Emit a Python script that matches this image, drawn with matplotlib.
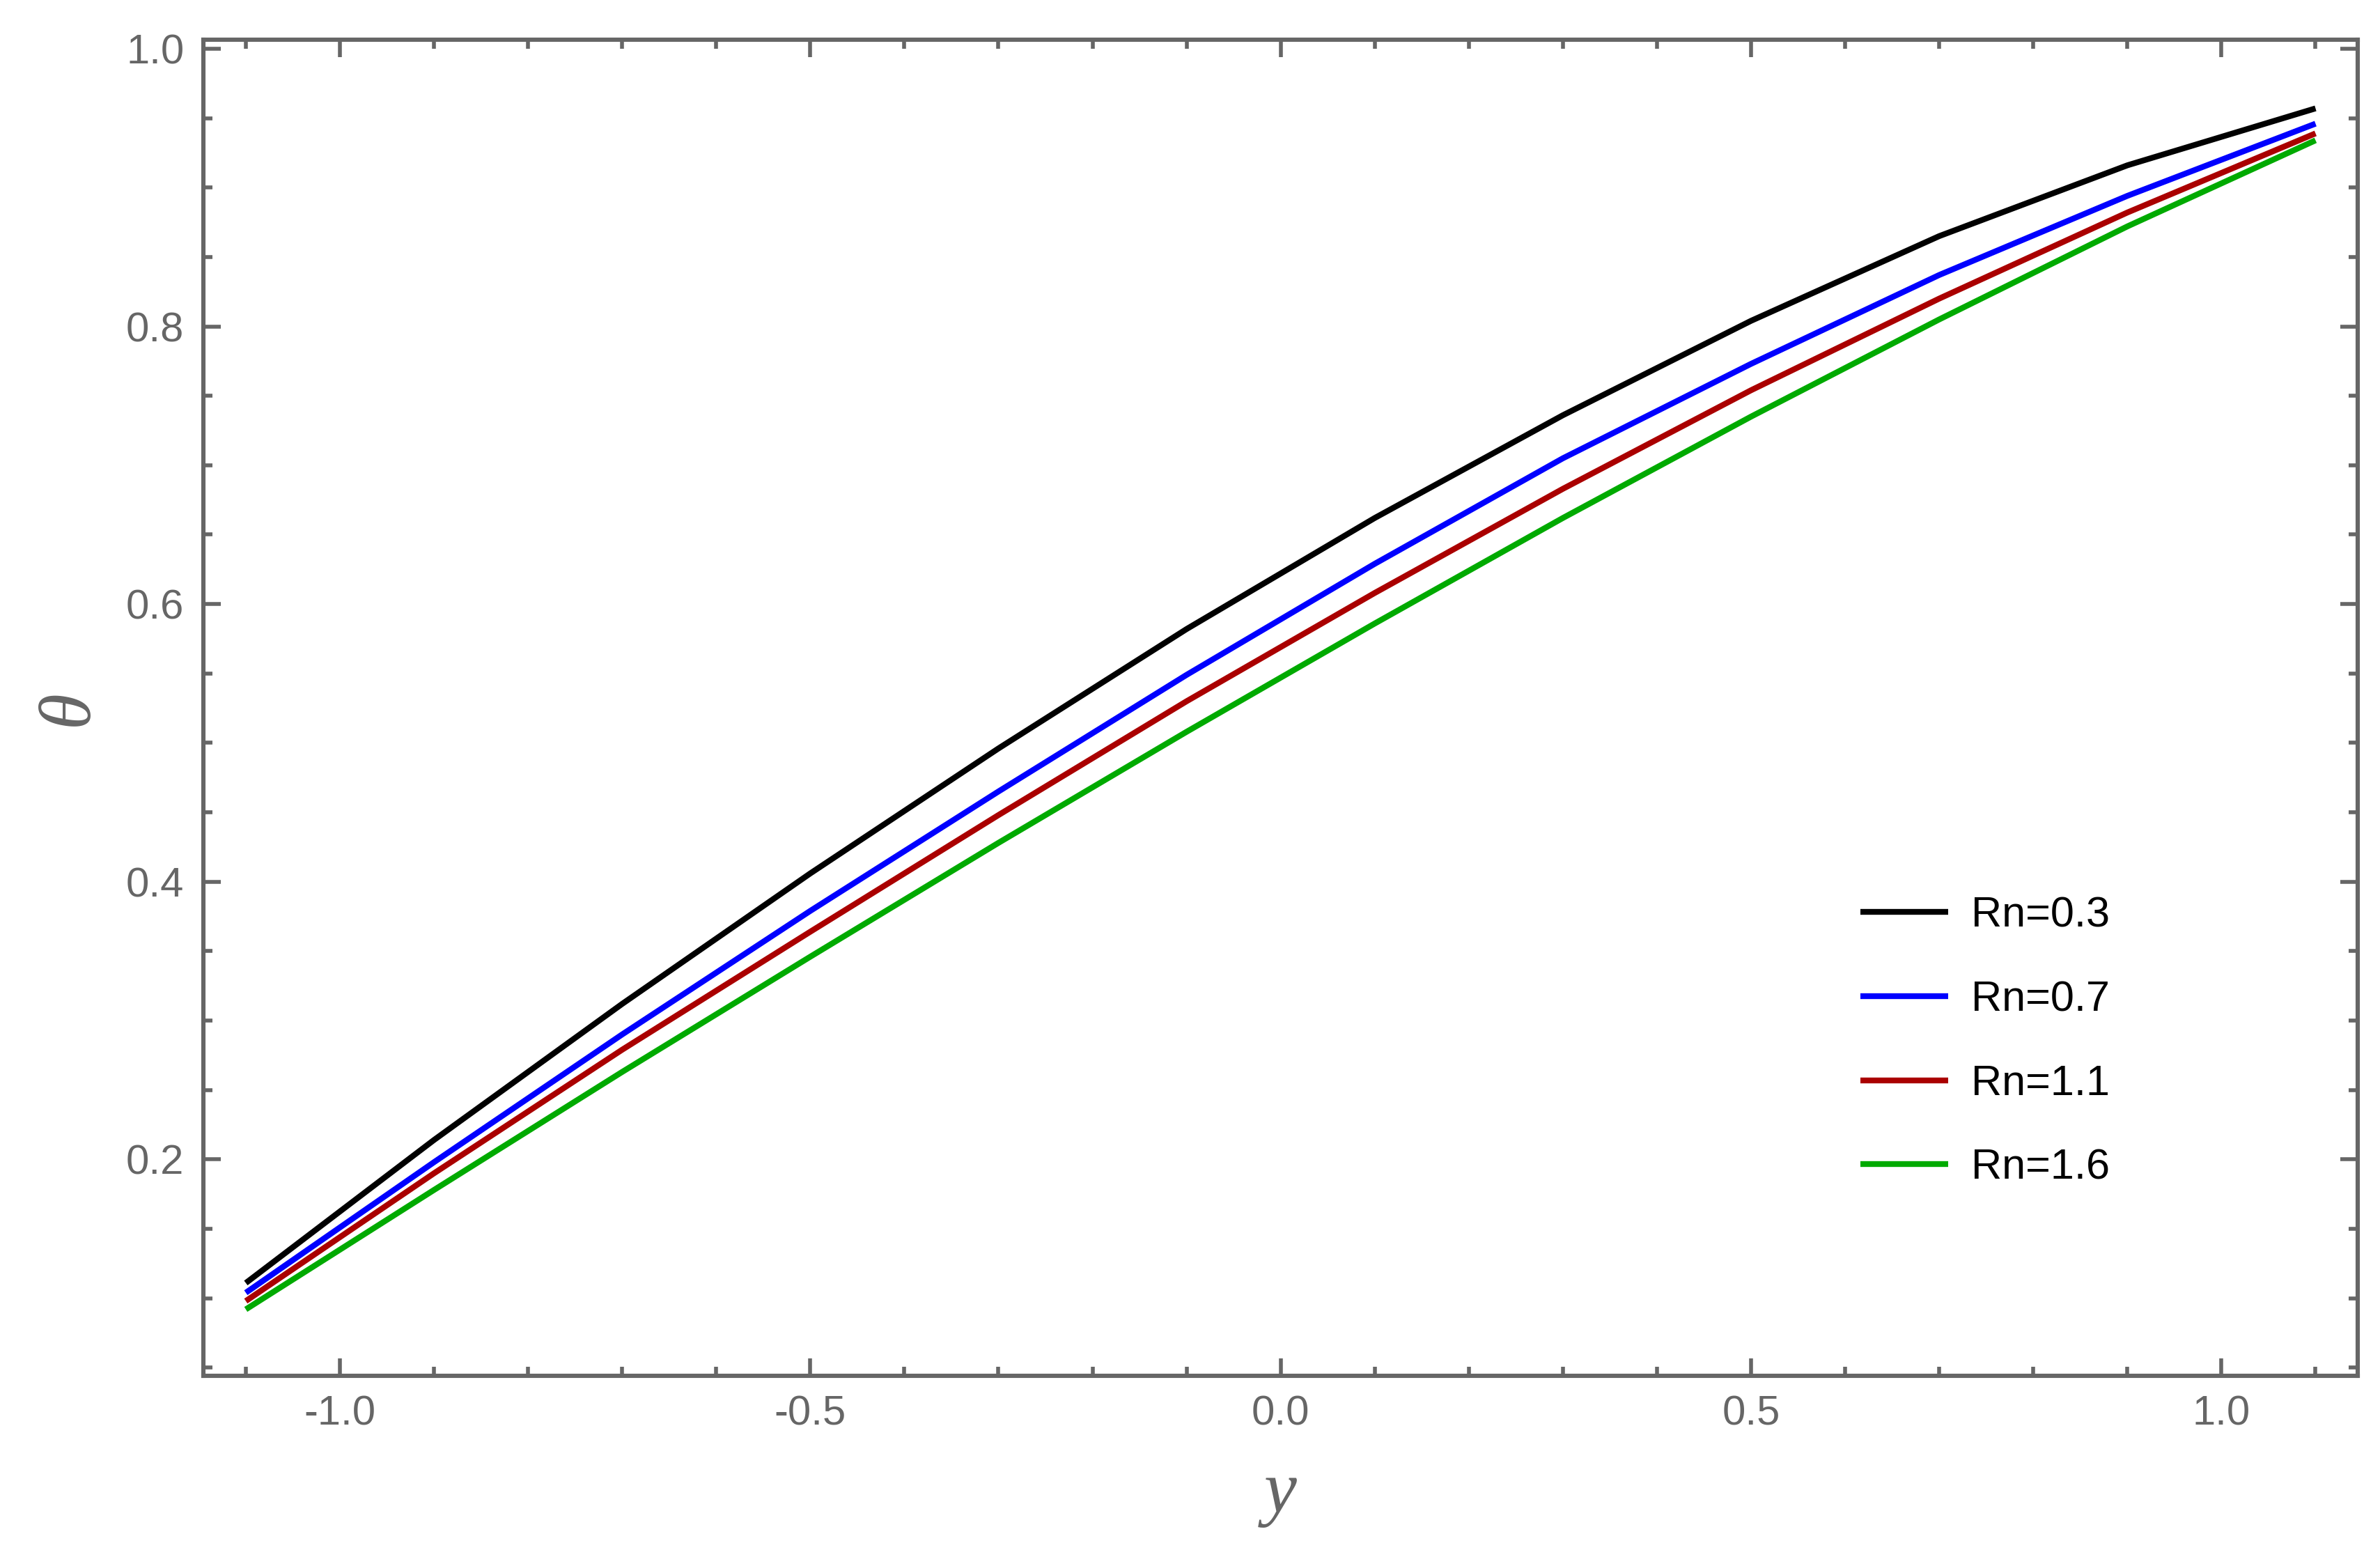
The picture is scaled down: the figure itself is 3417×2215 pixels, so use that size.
import matplotlib
matplotlib.use("Agg")
import matplotlib.pyplot as plt
from matplotlib.ticker import MultipleLocator, FormatStrFormatter

# values
y_pos = [-1.1, -0.9, -0.7, -0.5, -0.3, -0.1, 0.1, 0.3, 0.5, 0.7, 0.9, 1.1]
theta_rn03 = [0.111, 0.214, 0.312, 0.406, 0.496, 0.582, 0.662, 0.736, 0.804, 0.865, 0.916, 0.957]
theta_rn07 = [0.104, 0.198, 0.290, 0.379, 0.465, 0.549, 0.629, 0.705, 0.773, 0.837, 0.894, 0.946]
theta_rn11 = [0.098, 0.190, 0.279, 0.364, 0.448, 0.530, 0.608, 0.683, 0.754, 0.820, 0.882, 0.939]
theta_rn16 = [0.092, 0.178, 0.263, 0.346, 0.428, 0.508, 0.586, 0.662, 0.735, 0.805, 0.872, 0.934]

labels = ["Rn=0.3", "Rn=0.7", "Rn=1.1", "Rn=1.6"]
colors = ["black", "#0000ff", "#aa0000", "#00aa00"]

plt.rcParams["font.family"] = ["Liberation Sans", "DejaVu Sans"]
plt.rcParams["axes.unicode_minus"] = False

gray = "#666666"

fig = plt.figure(figsize=(17.085, 11.075), dpi=200)
ax = fig.add_axes([0.0855, 0.1084, 0.9052, 0.8659])

series = [theta_rn03, theta_rn07, theta_rn11, theta_rn16]
for vals, lab, col in zip(series, labels, colors):
    ax.plot(y_pos, vals, color=col, lw=3.0, label=lab, solid_capstyle="butt",
            solid_joinstyle="round")

ax.set_xlim(-1.145, 1.145)
ax.set_ylim(0.0442, 1.0065)

ax.xaxis.set_major_locator(MultipleLocator(0.5))
ax.xaxis.set_minor_locator(MultipleLocator(0.1))
ax.yaxis.set_major_locator(MultipleLocator(0.2))
ax.yaxis.set_minor_locator(MultipleLocator(0.05))
ax.xaxis.set_major_formatter(FormatStrFormatter("%.1f"))
ax.yaxis.set_major_formatter(FormatStrFormatter("%.1f"))

ax.tick_params(which="both", direction="in", top=True, right=True,
               color=gray, width=2.0, labelcolor=gray, labelsize=21.5, pad=10)
ax.tick_params(which="major", length=9)
ax.tick_params(which="minor", length=4.7)

for sp in ax.spines.values():
    sp.set_color(gray)
    sp.set_linewidth(2.2)

ax.set_xlabel("y", fontsize=38, color=gray, family="Liberation Serif",
              style="italic", labelpad=14)
ax.set_ylabel("θ", fontsize=38, color=gray, family="Liberation Serif",
              style="italic", labelpad=12)

ax.legend(loc="center left", bbox_to_anchor=(0.769, 0.2496), frameon=False,
          fontsize=22, handlelength=2.07, handletextpad=0.54,
          labelspacing=1.04, borderpad=0, borderaxespad=0)

fig.savefig("out.png", dpi=200)
